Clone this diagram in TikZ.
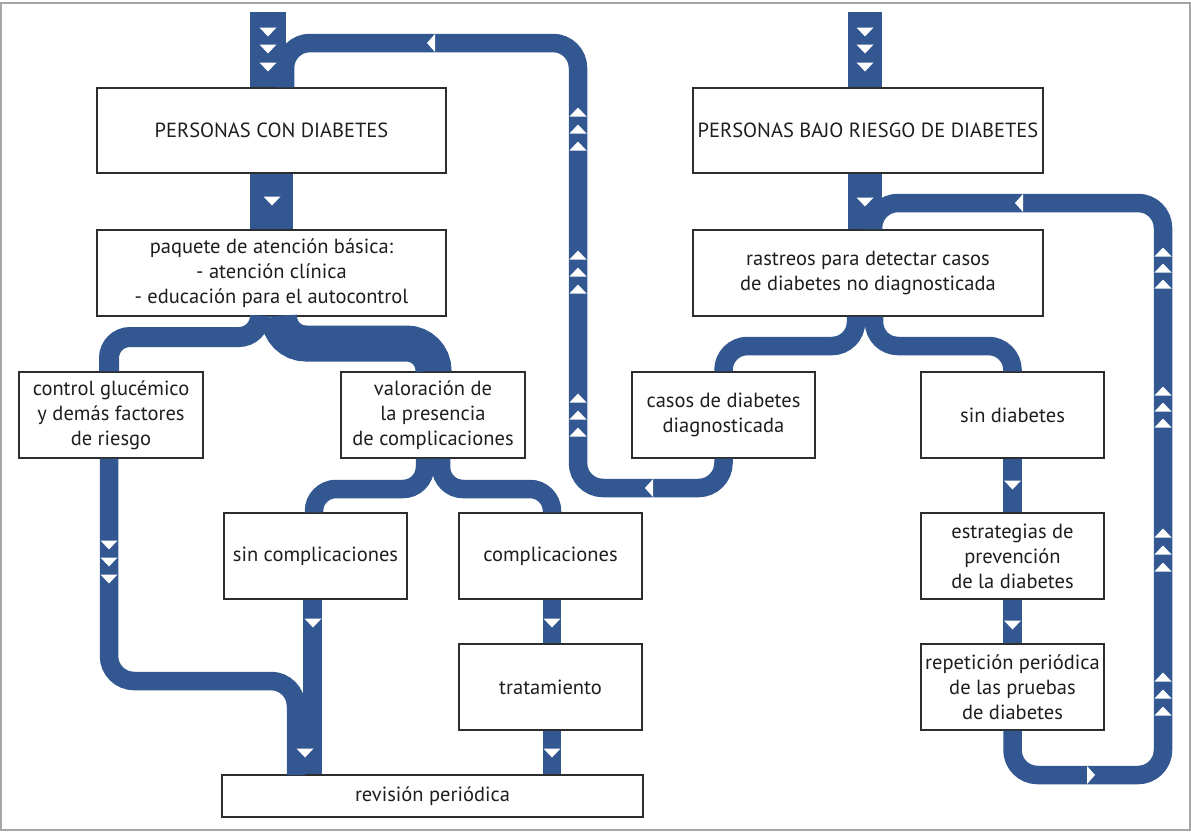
\documentclass[tikz,border=0pt]{standalone}
\usepackage{fontspec}
\setmainfont{PT Sans}
\definecolor{fb}{RGB}{51,88,145}
\definecolor{boxc}{RGB}{45,45,45}
\definecolor{txt}{RGB}{30,30,30}
\newcommand\TriDown[2]{\fill[white] (#1,#2) ++(-8.5,-4.5) -- ++(17,0) -- ++(-8.5,9) -- cycle;}
\newcommand\TriUp[2]{\fill[white] (#1,#2) ++(-8.5,4.5) -- ++(17,0) -- ++(-8.5,-9) -- cycle;}
\newcommand\TriLeft[2]{\fill[white] (#1,#2) ++(4,-9) -- ++(0,18) -- ++(-8,-9) -- cycle;}
\newcommand\TriRight[2]{\fill[white] (#1,#2) ++(-4,-9) -- ++(0,18) -- ++(8,-9) -- cycle;}
\begin{document}
\begin{tikzpicture}[x=1pt,y=-1pt,
  box/.style={draw=boxc, line width=1.3pt, fill=white, text=txt, align=center, inner sep=0pt,
    font=\fontsize{20.5}{25}\selectfont},
  band/.style={draw=fb, line width=18.5pt, rounded corners=25pt},
  bar/.style={draw=fb}
]
\useasboundingbox (0,0) rectangle (1191,831);
\draw[black!35, line width=1.5pt] (0.8,3) rectangle (1190.2,830.2);

% nodes
\node[box, minimum width=349pt, minimum height=85pt] (p1) at (271.5,130.5) {PERSONAS CON DIABETES};
\node[box, minimum width=349pt, minimum height=86pt] (p2) at (271.5,273) {paquete de atención básica:\\- atención clínica\\- educación para el autocontrol};
\node[box, minimum width=184pt, minimum height=86pt] (cg) at (111,415) {control glucémico\\y demás factores\\de riesgo};
\node[box, minimum width=184pt, minimum height=86pt] (val) at (433,415) {valoración de\\la presencia\\de complicaciones};
\node[box, minimum width=183pt, minimum height=86pt] (sc) at (315.5,556) {sin complicaciones};
\node[box, minimum width=183pt, minimum height=86pt] (co) at (550.5,556) {complicaciones};
\node[box, minimum width=183pt, minimum height=86pt] (tr) at (550.5,687) {tratamiento};
\node[box, minimum width=421pt, minimum height=42pt] (rev) at (432.5,796) {revisión periódica};
\node[box, minimum width=350pt, minimum height=85pt] (q1) at (868,130.5) {PERSONAS BAJO RIESGO DE DIABETES};
\node[box, minimum width=350pt, minimum height=86pt] (q2) at (868,273) {rastreos para detectar casos\\de diabetes no diagnosticada};
\node[box, minimum width=183pt, minimum height=86pt] (cas) at (723.5,415) {casos de diabetes\\diagnosticada};
\node[box, minimum width=183pt, minimum height=86pt] (sd) at (1012.5,415) {sin diabetes};
\node[box, minimum width=183pt, minimum height=86pt] (es) at (1012.5,556) {estrategias de\\prevención\\de la diabetes};
\node[box, minimum width=183pt, minimum height=86pt] (rep) at (1012.5,687) {repetición periódica\\de las pruebas\\de diabetes};

% input bars
\coordinate (inL) at (268,12);
\coordinate (inR) at (865,12);
\draw[bar, line width=36pt] (inL) -- (inL |- p1.north);
\draw[bar, line width=34pt] (inR) -- (inR |- q1.north);
\draw[bar, line width=43pt] (p1.south) -- (p2.north);
\draw[bar, line width=34pt] ([xshift=-3pt]q1.south) -- ([xshift=-3pt]q2.north);

% left loop
\draw[band] (cas.south) -- (723.5,488) -- (578,488) -- (578,43) -- (285,43) -- ([xshift=13.5pt]p1.north);
% right loop
\draw[band] (rep.south) -- (1012.5,775) -- (1163,775) -- (1163,203) -- (873,203) -- ([xshift=5pt]q2.north);

% paquete branches
\draw[band, line width=20pt, rounded corners=21pt] ([xshift=-11.5pt]p2.south) -- (260,337) -- (109,337) -- ([xshift=-2pt]cg.north);
\draw[band, line width=36pt, rounded corners=27pt] ([xshift=7.5pt]p2.south) -- (279,343.5) -- (433.5,343.5) -- ([xshift=0.5pt]val.north);

% valoracion branches
\draw[band, rounded corners=22pt] ([xshift=-8pt]val.south) -- (425,489) -- (314,489) -- ([xshift=-1.5pt]sc.north);
\draw[band, rounded corners=22pt] ([xshift=8pt]val.south) -- (441,489) -- (552,489) -- ([xshift=1.5pt]co.north);

% to revision
\draw[band] ([xshift=-2pt]cg.south) -- (109,681) -- (296,681) -- (296,775);
\draw[band] ([xshift=-3pt]sc.south) -- ([xshift=-3pt]sc.south |- rev.north);
\draw[band] ([xshift=1.5pt]co.south) -- ([xshift=1.5pt]tr.north);
\draw[band] ([xshift=1.5pt]tr.south) -- ([xshift=1.5pt]tr.south |- rev.north);

% rastreos branches
\draw[band, rounded corners=24pt] ([xshift=-12pt]q2.south) -- (856,346) -- (723.5,346) -- (cas.north);
\draw[band, rounded corners=24pt] ([xshift=6pt]q2.south) -- (874,346) -- (1012.5,346) -- (sd.north);
\draw[band] (sd.south) -- (es.north);
\draw[band] (es.south) -- (rep.north);

% triangles
\TriDown{268}{32}\TriDown{268}{49}\TriDown{268}{67}
\TriDown{865}{32}\TriDown{865}{49}\TriDown{865}{67}
\TriDown{272}{201}
\TriDown{865}{202}
\TriDown{109}{545}\TriDown{109}{562}\TriDown{109}{579}
\TriDown{313}{623}\TriDown{305}{753}
\TriDown{552}{623}\TriDown{552}{753}
\TriDown{1012.5}{485}\TriDown{1012.5}{625}
\TriUp{578}{112}\TriUp{578}{129}\TriUp{578}{146}
\TriUp{578}{255}\TriUp{578}{272}\TriUp{578}{289}
\TriUp{578}{398}\TriUp{578}{415}\TriUp{578}{432}
\TriUp{1163}{252}\TriUp{1163}{268}\TriUp{1163}{284}
\TriUp{1163}{391}\TriUp{1163}{407}\TriUp{1163}{423}
\TriUp{1163}{533}\TriUp{1163}{550}\TriUp{1163}{567}
\TriUp{1163}{677}\TriUp{1163}{694}\TriUp{1163}{711}
\TriLeft{431}{43}
\TriLeft{649}{488}
\TriLeft{1019}{203}
\TriRight{1091}{775}
\end{tikzpicture}
\end{document}
